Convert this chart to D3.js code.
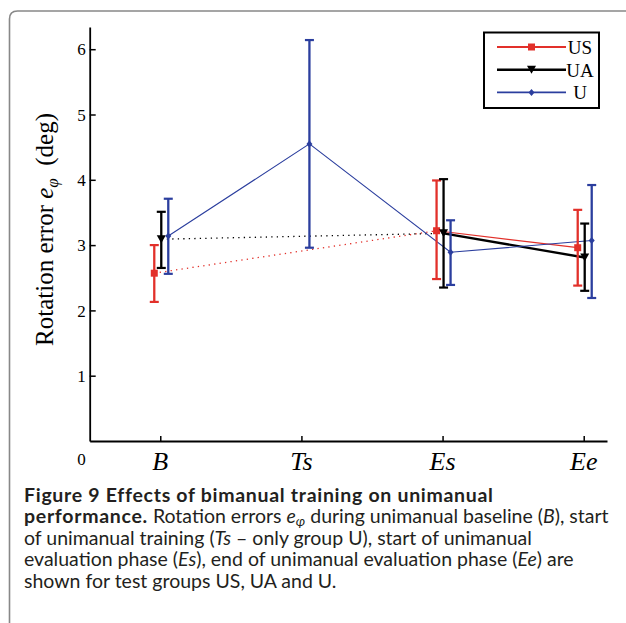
<!DOCTYPE html>
<html>
<head>
<meta charset="utf-8">
<script src="https://cdn.jsdelivr.net/npm/d3@7"></script>
<style>
  html, body { margin: 0; padding: 0; background: #fff; }
  svg { display: block; }
</style>
</head>
<body>
<script>
// ---------- data ----------
const categories = ["B", "Ts", "Es", "Ee"];
const categoryPos = [1, 2, 3, 4];

const usMean = [2.57, null, 3.22, 2.96];
const usLow  = [2.13, null, 2.48, 2.38];
const usHigh = [3.00, null, 3.99, 3.54];

const uaMean = [3.09, null, 3.18, 2.81];
const uaLow  = [2.65, null, 2.35, 2.30];
const uaHigh = [3.51, null, 4.01, 3.33];

const uMean = [3.14, 4.55, 2.89, 3.07];
const uLow  = [2.56, 2.96, 2.39, 2.19];
const uHigh = [3.71, 6.14, 3.38, 3.92];

const yTicks = [1, 2, 3, 4, 5, 6];
const seriesNames = ["US", "UA", "U"];

// ---------- setup ----------
const W = 626, H = 623;
const RED = "#e2302a", BLACK = "#000000", BLUE = "#2b3e9e";
const svg = d3.select("body").append("svg").attr("width", W).attr("height", H);

// frame
svg.append("path")
  .attr("d", "M9.5,623 V19 Q9.5,11 17.5,11 H626")
  .attr("fill", "none").attr("stroke", "#888").attr("stroke-width", 1.6);

const x = d3.scaleLinear().domain([0.5, 4.165]).range([89.7, 607]);
const y = d3.scaleLinear().domain([0, 6.34]).range([441, 27]);

const serif = "'Liberation Serif', 'DejaVu Serif', serif";

// y axis (ticks inward)
const yAxis = svg.append("g").attr("transform", `translate(${x(0.5)},0)`)
  .call(d3.axisLeft(y).tickValues(yTicks).tickSize(-6).tickSizeOuter(0).tickFormat(""));
yAxis.select(".domain").attr("stroke-width", 1.8);
yAxis.selectAll(".tick line").attr("stroke-width", 1.5);
svg.append("g").selectAll("text").data(yTicks).join("text")
  .attr("x", x(0.5) - 4).attr("y", d => y(d)).attr("dy", "0.36em")
  .attr("text-anchor", "end").attr("font-family", serif).attr("font-size", 17)
  .text(d => d);

// "0" label at bottom left
svg.append("text").attr("x", x(0.5) - 4).attr("y", 465)
  .attr("text-anchor", "end").attr("font-family", serif).attr("font-size", 17).text("0");

// x axis
const xAxis = svg.append("g").attr("transform", `translate(0,${y(0)})`)
  .call(d3.axisBottom(x).tickValues(categoryPos).tickSize(-5).tickSizeOuter(0).tickFormat(""));
xAxis.select(".domain").attr("stroke-width", 1.8);
xAxis.selectAll(".tick line").attr("stroke-width", 1.5);
svg.append("g").selectAll("text").data(categoryPos).join("text")
  .attr("x", d => x(d)).attr("y", 470).attr("text-anchor", "middle")
  .attr("font-family", serif).attr("font-size", 26).attr("font-style", "italic")
  .text((d, i) => categories[i]);

// y label
const yl = svg.append("text")
  .attr("transform", `translate(53,229.5) rotate(-90)`)
  .attr("text-anchor", "middle").attr("font-family", serif).attr("font-size", 25);
yl.append("tspan").text("Rotation error ");
yl.append("tspan").attr("font-style", "italic").text("e");
yl.append("tspan").attr("font-style", "italic").attr("font-size", 17).attr("dy", 5).text("φ");
yl.append("tspan").attr("dy", -5).text("\u2002(deg)");

// ---------- series ----------
const series = [
  { name: "US", mean: usMean, low: usLow, high: usHigh, color: RED, off: -6, lw: 1.2, marker: "square" },
  { name: "UA", mean: uaMean, low: uaLow, high: uaHigh, color: BLACK, off: 1, lw: 2.4, marker: "tri" },
  { name: "U", mean: uMean, low: uLow, high: uHigh, color: BLUE, off: 8, lw: 1.1, marker: "diamond" }
];

const px = (s, i) => x(categoryPos[i]) + s.off;

function marker(g, type, cx, cy, color) {
  if (type === "square") {
    g.append("rect").attr("x", cx - 3.5).attr("y", cy - 3.5).attr("width", 7).attr("height", 7).attr("fill", color);
  } else if (type === "tri") {
    g.append("path").attr("d", `M${cx - 4.5},${cy - 4} L${cx + 4.5},${cy - 4} L${cx},${cy + 4} Z`).attr("fill", color);
  } else {
    g.append("path").attr("d", `M${cx},${cy - 3.5} L${cx + 3},${cy} L${cx},${cy + 3.5} L${cx - 3},${cy} Z`).attr("fill", color);
  }
}

const plot = svg.append("g");

series.forEach(s => {
  const idx = s.mean.map((v, i) => v == null ? null : i).filter(i => i !== null);
  if (s.mean[1] == null) {
    // dotted link B -> Es for groups without Ts
    plot.append("line")
      .attr("x1", px(s, 0)).attr("y1", y(s.mean[0]))
      .attr("x2", px(s, 2)).attr("y2", y(s.mean[2]))
      .attr("stroke", s.color).attr("stroke-width", 1.3).attr("stroke-dasharray", "1.3,4.2");
    plot.append("path").datum([2, 3])
      .attr("d", d3.line().x(i => px(s, i)).y(i => y(s.mean[i])))
      .attr("fill", "none").attr("stroke", s.color).attr("stroke-width", s.lw);
  } else {
    plot.append("path").datum(idx)
      .attr("d", d3.line().x(i => px(s, i)).y(i => y(s.mean[i])))
      .attr("fill", "none").attr("stroke", s.color).attr("stroke-width", s.lw);
  }
});

series.forEach(s => {
  s.mean.forEach((v, i) => {
    if (v == null) return;
    const cx = px(s, i);
    const g = plot.append("g");
    g.append("line").attr("x1", cx).attr("x2", cx).attr("y1", y(s.low[i])).attr("y2", y(s.high[i]))
      .attr("stroke", s.color).attr("stroke-width", 2.3);
    [s.low[i], s.high[i]].forEach(e => {
      g.append("line").attr("x1", cx - 4.5).attr("x2", cx + 4.5).attr("y1", y(e)).attr("y2", y(e))
        .attr("stroke", s.color).attr("stroke-width", 2.2);
    });
    marker(g, s.marker, cx, y(v), s.color);
  });
});

// ---------- legend ----------
const lg = svg.append("g");
lg.append("rect").attr("x", 484).attr("y", 32.5).attr("width", 115).attr("height", 75.5)
  .attr("fill", "#fff").attr("stroke", "#000").attr("stroke-width", 2);
series.forEach((s, k) => {
  const cy = 47 + k * 22.7;
  lg.append("line").attr("x1", 497).attr("x2", 566).attr("y1", cy).attr("y2", cy)
    .attr("stroke", s.color).attr("stroke-width", s.name === "UA" ? 2.6 : 1.8);
  marker(lg, s.marker, 531.5, cy, s.color);
  lg.append("text").attr("x", 580).attr("y", cy + 7).attr("text-anchor", "middle")
    .attr("font-family", serif).attr("font-size", 19).text(s.name);
});

// ---------- caption (one text block, one tspan per line) ----------
const sans = "Lato, 'Open Sans', sans-serif";
const lines = [
  [["Figure 9 Effects of bimanual training on unimanual", "b"]],
  [["performance.", "b"], [" Rotation errors ", ""], ["e", "i"], ["φ", "sub"], [" during unimanual baseline (", ""], ["B", "i"], ["), start", ""]],
  [["of unimanual training (", ""], ["Ts", "i"], [" – only group U), start of unimanual", ""]],
  [["evaluation phase (", ""], ["Es", "i"], ["), end of unimanual evaluation phase (", ""], ["Ee", "i"], [") are", ""]],
  [["shown for test groups US, UA and U.", ""]]
];
const baselines = [501.5, 523, 544.5, 566, 587.5];
const capText = svg.append("text").attr("font-family", sans).attr("fill", "#231f20").attr("font-size", 19.5);
const lineSpans = lines.map((parts, li) => {
  const ln = capText.append("tspan").attr("x", 24).attr("y", baselines[li]);
  parts.forEach(([str, st], j) => {
    const ts = ln.append("tspan").text(str);
    if (st === "b") ts.attr("font-weight", "bold").classed("bold", true);
    if (st === "i") ts.attr("font-style", "italic");
    if (st === "sub") ts.attr("font-style", "italic").attr("font-size", "0.7em").attr("dy", 3);
    if (j > 0 && parts[j - 1][1] === "sub") ts.attr("dy", -3);
  });
  return ln;
});
// widen bold run to reference width of first line
const firstBold = lineSpans[0].select("tspan").node();
const bw = firstBold.getComputedTextLength();
const nch = lines[0][0][0].length;
const ls = Math.max(0, (469 - bw) / nch);
capText.selectAll("tspan.bold").attr("letter-spacing", ls);
</script>
</body>
</html>
